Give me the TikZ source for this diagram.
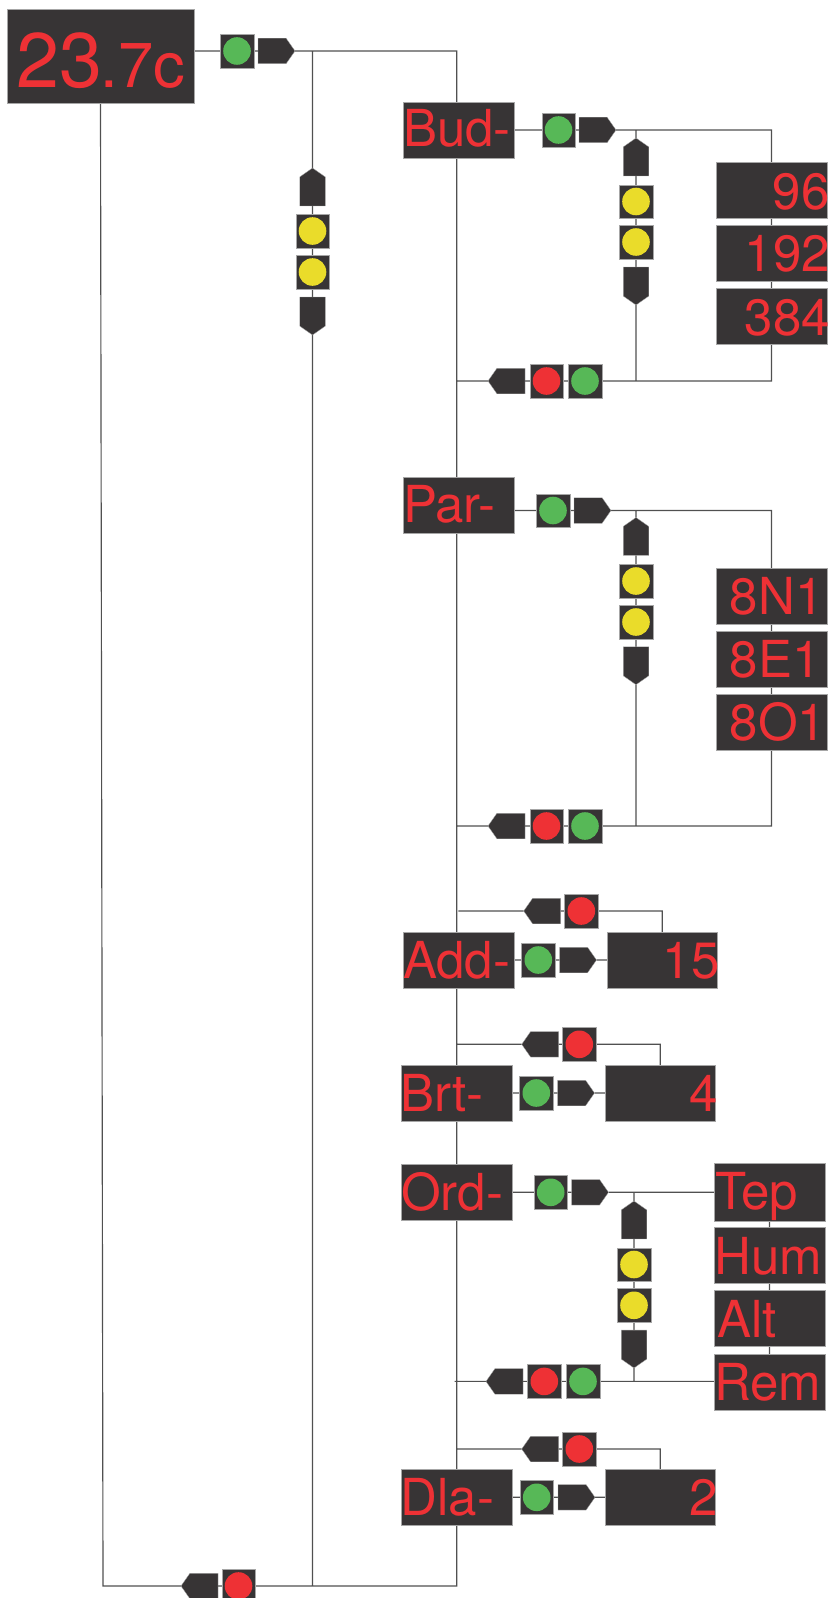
\documentclass[tikz,border=0pt]{standalone}
\usepackage{fontspec}
\setmainfont{TeX Gyre Heros}
\usetikzlibrary{shapes.symbols,backgrounds}
\definecolor{panel}{HTML}{373435}
\definecolor{edgegray}{HTML}{A6A6A6}
\definecolor{wire}{HTML}{505050}
\definecolor{ledred}{HTML}{EE3135}
\definecolor{ledgreen}{HTML}{57B857}
\definecolor{ledyellow}{HTML}{EADC2A}
\newlength\pxu \setlength\pxu{0.75pt}
\tikzset{
  panelbox/.style={rectangle,fill=panel,draw=edgegray,line width=0.35pt,inner sep=0pt,outer sep=0pt,text=ledred},
  lampbox/.style={rectangle,fill=panel,draw=edgegray,line width=0.35pt,inner sep=0pt,outer sep=0pt,minimum size=33.5\pxu,
    path picture={\fill[#1] (path picture bounding box.center) circle[radius=13.8\pxu];}},
  sigbase/.style={signal,fill=panel,draw=edgegray,line width=0.25pt,inner sep=0pt,outer sep=0pt,signal pointer angle=110},
  sigeast/.style={sigbase,signal to=east,signal from=nowhere,minimum width=37\pxu,minimum height=25.5\pxu,anchor=east},
  sigwest/.style={sigbase,signal to=west,signal from=nowhere,minimum width=37\pxu,minimum height=25.5\pxu,anchor=west},
  signorth/.style={sigbase,signal to=north,signal from=nowhere,minimum width=25.5\pxu,minimum height=29\pxu,anchor=north},
  sigsouth/.style={sigbase,signal to=south,signal from=nowhere,minimum width=25.5\pxu,minimum height=29\pxu,anchor=south},
  wireline/.style={draw=wire,line width=1.15\pxu,line join=miter},
}
% name, cx, cy, width, text offset, text, baseline below centre
\newcommand\dbox[7]{\node[panelbox] (#1) at (#2,#3) {\hbox to #4\pxu{\rule[\dimexpr-28\pxu+#7\pxu\relax]{0pt}{56\pxu}\hskip#5\pxu\relax\fontsize{38.25pt}{40pt}\selectfont #6\hss}};}
\newcommand\lampnode[4]{\node[lampbox=#4] (#1) at (#2,#3) {};}
\newcommand\signode[4]{\node[sig#2] (#1) at (#3,#4) {};}
\begin{document}
\begin{tikzpicture}[x=0.75pt,y=-0.75pt]
\clip (0,0) rectangle (830,1598);
\useasboundingbox (0,0) rectangle (830,1598);

% main display
\node[panelbox] (main) at (100.5,56) {\hbox to 187\pxu{\rule[-15.5\pxu]{0pt}{94\pxu}\hskip9.5\pxu\relax\fontsize{58pt}{60pt}\selectfont 23\kern-2\pxu\fontsize{47.5pt}{50pt}\selectfont .7c\hss}};
\lampnode{mg}{237}{51}{ledgreen}
\signode{ma}{east}{295}{51}
\signode{mu}{north}{312.5}{168}
\lampnode{my1}{312.5}{231}{ledyellow}
\lampnode{my2}{312.5}{272}{ledyellow}
\signode{md}{south}{312.5}{335}
\signode{mb}{west}{181}{1586}
\lampnode{mr}{238.5}{1586}{ledred}
\coordinate (mtj) at (312.5,51);
\coordinate (bus) at (456.7,51);
\coordinate (mbj) at (312.5,1586);
\coordinate (busb) at (456.7,1586);
\coordinate (ml) at (100.5,103);
\coordinate (mlb) at (103,1586);

% Bud
\dbox{bud}{458.5}{130}{111}{0}{Bud-}{16.7}
\lampnode{bg}{558.5}{130}{ledgreen}
\signode{ba}{east}{616}{130}
\signode{bu}{north}{636}{138}
\lampnode{by1}{636}{201.5}{ledyellow}
\lampnode{by2}{636}{242}{ledyellow}
\signode{bd}{south}{636}{305}
\dbox{bv1}{771.5}{190.2}{110.5}{56.7}{96}{19}
\dbox{bv2}{771.5}{253.5}{110.5}{28.7}{192}{18.2}
\dbox{bv3}{771.5}{316.5}{110.5}{28.7}{384}{18.5}
\lampnode{bbg}{585}{381}{ledgreen}
\lampnode{bbr}{546.5}{381}{ledred}
\signode{bb}{west}{488}{381}
\coordinate (btj) at (636,130);
\coordinate (btr) at (771.5,130);
\coordinate (bbj) at (636,381);
\coordinate (bbrj) at (771.5,381);
\coordinate (bbl) at (456.7,381);

% Par
\dbox{par}{458.5}{505}{111}{0}{Par-}{17.7}
\lampnode{pg}{553}{510.5}{ledgreen}
\signode{pa}{east}{611}{510.5}
\signode{pu}{north}{636}{517.5}
\lampnode{py1}{636}{581}{ledyellow}
\lampnode{py2}{636}{622}{ledyellow}
\signode{pd}{south}{636}{684.7}
\dbox{pv1}{771.5}{596.3}{110.5}{13.7}{8N1}{18}
\dbox{pv2}{771.5}{659.5}{110.5}{13.7}{8E1}{18}
\dbox{pv3}{771.5}{722.3}{110.5}{13.7}{8O1}{18}
\lampnode{pbg}{585}{826}{ledgreen}
\lampnode{pbr}{546.5}{826}{ledred}
\signode{pb}{west}{488}{826}
\coordinate (ptj) at (636,510.5);
\coordinate (ptr) at (771.5,510.5);
\coordinate (pbj) at (636,826);
\coordinate (pbrj) at (771.5,826);
\coordinate (pbl) at (456.7,826);
\coordinate (pbe) at (514,510.5);

% Add
\dbox{add}{458.5}{960}{111}{0}{Add-}{18.3}
\lampnode{ag}{538.3}{960}{ledgreen}
\signode{aa}{east}{596.5}{960}
\dbox{av}{662.2}{960}{110.5}{56}{15}{18.3}
\lampnode{ar}{581.3}{911}{ledred}
\signode{ab}{west}{523.7}{911}
\coordinate (atr) at (662.2,911);
\coordinate (atl) at (458.3,911);

% Brt
\dbox{brt}{456.6}{1093}{111}{-1}{Brt-}{18.6}
\lampnode{tg}{536.3}{1093}{ledgreen}
\signode{ta}{east}{594.5}{1093}
\dbox{tv}{660.2}{1093}{110.5}{85}{4}{18.6}
\lampnode{tr}{579.3}{1044.3}{ledred}
\signode{tb}{west}{521.7}{1044.3}
\coordinate (ttr) at (660.2,1044.3);
\coordinate (ttl) at (456.7,1044.3);

% Ord
\dbox{ord}{456.6}{1192.2}{111}{0}{Ord-}{18}
\lampnode{og}{550.7}{1192.3}{ledgreen}
\signode{oa}{east}{608.5}{1192.3}
\signode{ou}{north}{634}{1201}
\lampnode{oy1}{634}{1264.5}{ledyellow}
\lampnode{oy2}{634}{1305.3}{ledyellow}
\signode{od}{south}{634}{1368}
\dbox{ov1}{769.5}{1192.2}{110.5}{1}{Tep}{18.5}
\dbox{ov2}{769.5}{1255.5}{110.5}{0}{Hum}{18.5}
\dbox{ov3}{769.5}{1318.6}{110.5}{3}{Alt}{18.5}
\dbox{ov4}{769.5}{1381.8}{110.5}{0}{Rem}{18.5}
\lampnode{obg}{583}{1381.4}{ledgreen}
\lampnode{obr}{544.3}{1381.4}{ledred}
\signode{ob}{west}{486}{1381.4}
\coordinate (otj) at (634,1192.3);
\coordinate (obj) at (634,1381.4);
\coordinate (obl) at (454.7,1381.4);
\coordinate (ovt) at (714,1192.3);
\coordinate (ovb) at (714,1381.4);

% Dla
\dbox{dla}{456.8}{1497.3}{110.5}{-1}{Dla-}{18.5}
\lampnode{dg}{536.7}{1497.3}{ledgreen}
\signode{da}{east}{595}{1497.3}
\dbox{dv}{660.2}{1497.3}{110.5}{85}{2}{18.5}
\lampnode{dr}{579.3}{1449}{ledred}
\signode{db}{west}{521.7}{1449}
\coordinate (dtr) at (660.2,1449);
\coordinate (dtl) at (456.7,1449);

\begin{pgfonlayer}{background}
\path[wireline]
  % main
  (main.east |- mg) -- (mg.west) (mg.east) -- (ma.west) (ma.east) -- (bus) -- (busb) -- (mr.east)
  (mr.west) -- (mb.east) (mb.west) -- (mlb) -- (ml)
  (mtj) -- (mu.north) (mu.south) -- (my1.north) (my1.south) -- (my2.north) (my2.south) -- (md.north) (md.south) -- (mbj)
  % Bud
  (bud.east) -- (bg.west) (bg.east) -- (ba.west) (ba.east) -- (btr) -- (bv1.north)
  (bv1.south) -- (bv2.north) (bv2.south) -- (bv3.north) (bv3.south) -- (bbrj) -- (bbg.east)
  (bbg.west) -- (bbr.east) (bbr.west) -- (bb.east) (bb.west) -- (bbl)
  (btj) -- (bu.north) (bu.south) -- (by1.north) (by1.south) -- (by2.north) (by2.south) -- (bd.north) (bd.south) -- (bbj)
  % Par
  (pbe) -- (pg.west) (pg.east) -- (pa.west) (pa.east) -- (ptr) -- (pv1.north)
  (pv1.south) -- (pv2.north) (pv2.south) -- (pv3.north) (pv3.south) -- (pbrj) -- (pbg.east)
  (pbg.west) -- (pbr.east) (pbr.west) -- (pb.east) (pb.west) -- (pbl)
  (ptj) -- (pu.north) (pu.south) -- (py1.north) (py1.south) -- (py2.north) (py2.south) -- (pd.north) (pd.south) -- (pbj)
  % Add
  (add.east) -- (ag.west) (ag.east) -- (aa.west) (aa.east) -- (av.west)
  (av.north) -- (atr) -- (ar.east) (ar.west) -- (ab.east) (ab.west) -- (atl)
  % Brt
  (brt.east) -- (tg.west) (tg.east) -- (ta.west) (ta.east) -- (tv.west)
  (tv.north) -- (ttr) -- (tr.east) (tr.west) -- (tb.east) (tb.west) -- (ttl)
  % Ord
  (ord.east) -- (og.west) (og.east) -- (oa.west) (oa.east) -- (ovt)
  (ov1.south) -- (ov2.north) (ov2.south) -- (ov3.north) (ov3.south) -- (ov4.north)
  (ovb) -- (obg.east) (obg.west) -- (obr.east) (obr.west) -- (ob.east) (ob.west) -- (obl)
  (otj) -- (ou.north) (ou.south) -- (oy1.north) (oy1.south) -- (oy2.north) (oy2.south) -- (od.north) (od.south) -- (obj)
  % Dla
  (dla.east) -- (dg.west) (dg.east) -- (da.west) (da.east) -- (dv.west)
  (dv.north) -- (dtr) -- (dr.east) (dr.west) -- (db.east) (db.west) -- (dtl);
\end{pgfonlayer}
\end{tikzpicture}
\end{document}
